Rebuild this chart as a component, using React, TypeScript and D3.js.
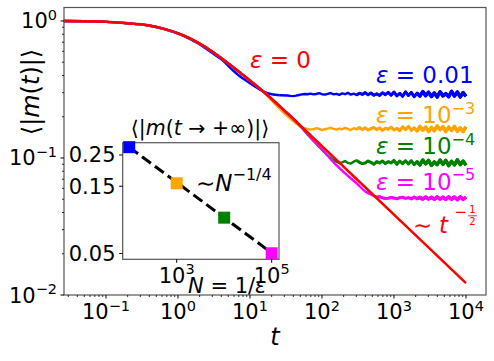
import React from 'react';
import * as d3 from 'd3';

// ---------- data ----------
// eps = 0 curve (red)
const redT = [0.026, 0.05, 0.1, 0.2, 0.375, 0.64, 1.09, 1.85, 3.16, 5.4, 9.2, 15.6, 30, 100, 1000, 10000];
const redM = [0.999, 0.996, 0.985, 0.962, 0.93, 0.875, 0.8, 0.7, 0.587, 0.475, 0.38, 0.303, 0.222, 0.122, 0.0386, 0.0122];

// eps = 0.01 (blue)
const blueT = [0.026, 0.05, 0.1, 0.2, 0.375, 0.64, 1.09, 1.85, 3.16, 4.3, 5.4, 7, 9.2, 12, 15.3, 20, 26];
const blueM = [0.999, 0.996, 0.985, 0.962, 0.93, 0.874, 0.795, 0.69, 0.572, 0.51, 0.45, 0.4, 0.362, 0.33, 0.305, 0.292, 0.287];
const blueStartExp = 1.52;
const bluePlateau = [
  0.286, 0.284, 0.283, 0.285, 0.288, 0.291, 0.293, 0.292, 0.295, 0.291, 0.293, 0.297, 0.292, 0.29, 0.294,
  0.298, 0.291, 0.294, 0.289, 0.296, 0.292, 0.299, 0.29, 0.295, 0.288, 0.297, 0.291, 0.3, 0.289, 0.298, 0.287, 0.294, 0.286, 0.299, 0.29,
  0.301, 0.287, 0.303, 0.284, 0.296, 0.282, 0.304, 0.286, 0.301, 0.28, 0.297, 0.283, 0.305, 0.285, 0.302, 0.281, 0.298, 0.279, 0.304, 0.284, 0.295, 0.28, 0.306, 0.283, 0.303, 0.279, 0.3, 0.282,
];

// eps = 1e-3 (orange)
const orangeT = [0.026, 0.05, 0.1, 0.2, 0.375, 0.64, 1.09, 1.85, 3.16, 5.4, 9.2, 15.6, 20, 25, 30, 38, 48, 56];
const orangeM = [0.999, 0.996, 0.985, 0.962, 0.93, 0.875, 0.8, 0.7, 0.587, 0.475, 0.38, 0.302, 0.263, 0.233, 0.212, 0.19, 0.172, 0.165];
const orangeStartExp = 1.8;
const orangePlateau = [
  0.163, 0.161, 0.162, 0.165, 0.163, 0.16, 0.162, 0.164, 0.166, 0.163, 0.161, 0.164, 0.162, 0.166,
  0.163, 0.16, 0.165, 0.162, 0.167, 0.161, 0.166, 0.16, 0.164, 0.167, 0.161, 0.166, 0.159, 0.165, 0.162, 0.168, 0.16, 0.165,
  0.158, 0.169, 0.161, 0.17, 0.159, 0.166, 0.157, 0.17, 0.16, 0.168, 0.156, 0.167, 0.158, 0.171, 0.161, 0.169, 0.156, 0.168, 0.159, 0.17, 0.157, 0.166, 0.156, 0.169,
];

// eps = 1e-4 (green)
const greenT = [0.026, 0.05, 0.1, 0.2, 0.375, 0.64, 1.09, 1.85, 3.16, 5.4, 9.2, 15.6, 30, 45, 62, 80, 100, 120, 140];
const greenM = [0.999, 0.996, 0.985, 0.962, 0.93, 0.875, 0.8, 0.7, 0.587, 0.475, 0.38, 0.303, 0.222, 0.182, 0.15, 0.13, 0.115, 0.104, 0.098];
const greenStartExp = 2.16;
const greenPlateau = [
  0.097, 0.094, 0.092, 0.093, 0.095, 0.092, 0.091, 0.094, 0.096, 0.093, 0.091, 0.092,
  0.095, 0.093, 0.09, 0.094, 0.092, 0.095, 0.091, 0.094, 0.092, 0.096, 0.09, 0.095, 0.091, 0.0955, 0.0905,
  0.0955, 0.0895, 0.094, 0.089, 0.0965, 0.0905, 0.096, 0.0885, 0.0935, 0.0895, 0.0965, 0.09, 0.096, 0.088, 0.0945, 0.089, 0.097, 0.0895, 0.095, 0.0885,
];

// eps = 1e-5 (magenta)
const magentaT = [0.026, 0.05, 0.1, 0.2, 0.375, 0.64, 1.09, 1.85, 3.16, 5.4, 9.2, 15.6, 30, 45, 62, 80, 100, 120, 142, 200, 300, 400, 500, 560];
const magentaM = [0.999, 0.996, 0.985, 0.962, 0.93, 0.875, 0.8, 0.7, 0.587, 0.475, 0.38, 0.303, 0.222, 0.182, 0.151, 0.131, 0.116, 0.104, 0.094, 0.079, 0.0655, 0.057, 0.0535, 0.052];
const magentaStartExp = 2.8;
const magentaPlateau = [
  0.0522, 0.0512, 0.0506, 0.0509, 0.0515, 0.051, 0.0504, 0.0513, 0.0517, 0.0507, 0.0514, 0.0503, 0.0518, 0.0505, 0.0516, 0.0501,
  0.0519, 0.0502, 0.0517, 0.05, 0.052, 0.0501, 0.0518, 0.0498, 0.0521, 0.05, 0.0519, 0.0497, 0.0521, 0.0499, 0.0518,
];

// inset: saturation value vs N = 1/eps
const insetN = [1e2, 1e3, 1e4, 1e5];
const insetM = [0.284, 0.1575, 0.0898, 0.0502];
const insetColors = ['#0000ff', '#ffa500', '#008000', '#ff00ff'];
const fitN = [1e2, 1e5];
const fitM = [0.284, 0.0505];

// ticks
const xTickExps = [-1, 0, 1, 2, 3, 4];
const yTickExps = [-2, -1, 0];
const insetYTicks = [0.05, 0.15, 0.25];
const insetYTickLabels = ['0.05', '0.15', '0.25'];
const insetXTickExps = [3, 5];

const FONT = '"DejaVu Sans", sans-serif';
const MINUS = '\u2212';

type P = [number, number];

function transient(tt: number[], mm: number[]): P[] {
  return tt.map((t, i) => [t, mm[i]] as P);
}
function plateauPts(last: P, startExp: number, plateau: number[]): P[] {
  const n = plateau.length;
  const pts: P[] = [last];
  plateau.forEach((v, i) => {
    const e = startExp + (i * (4 - startExp)) / (n - 1);
    pts.push([Math.pow(10, e), v]);
  });
  return pts;
}

export default function App() {
  const W = 494;
  const H = 361;
  const L = 64, R = 486, T = 7.5, B = 295;

  const xs = d3.scaleLog().domain([Math.pow(10, -1.583), Math.pow(10, 4.278)]).range([L, R]);
  const ys = d3.scaleLog().domain([0.01, 1.254]).range([B, T]);

  const smooth = d3.line<P>().x((d) => xs(d[0])).y((d) => ys(d[1])).curve(d3.curveMonotoneX);
  const straight = d3.line<P>().x((d) => xs(d[0])).y((d) => ys(d[1]));

  const red: P[] = transient(redT, redM);
  const defs = [
    { t: blueT, m: blueM, s: blueStartExp, p: bluePlateau, color: '#0000ff' },
    { t: orangeT, m: orangeM, s: orangeStartExp, p: orangePlateau, color: '#ffa500' },
    { t: greenT, m: greenM, s: greenStartExp, p: greenPlateau, color: '#008000' },
    { t: magentaT, m: magentaM, s: magentaStartExp, p: magentaPlateau, color: '#ff00ff' },
  ];
  const series = defs.map((d) => {
    const tr = transient(d.t, d.m);
    return { tr, pl: plateauPts(tr[tr.length - 1], d.s, d.p), color: d.color };
  });

  // minor ticks
  const xMinor: number[] = [];
  for (let e = -2; e <= 4; e++) for (let k = 2; k <= 9; k++) {
    const v = k * Math.pow(10, e);
    if (v >= xs.domain()[0] && v <= xs.domain()[1]) xMinor.push(v);
  }
  const yMinor: number[] = [];
  for (let e = -2; e <= 0; e++) for (let k = 2; k <= 9; k++) {
    const v = k * Math.pow(10, e);
    if (v >= ys.domain()[0] && v <= ys.domain()[1]) yMinor.push(v);
  }

  // inset
  const iL = 122.7, iR = 279, iT = 142.7, iB = 259.3;
  const xi = d3.scaleLog().domain([Math.pow(10, 1.863), Math.pow(10, 5.154)]).range([iL, iR]);
  const yi = d3.scaleLog().domain([0.0455, 0.3055]).range([iB, iT]);
  const fitLine = d3.line<number>().x((_, i) => xi(fitN[i])).y((_, i) => yi(fitM[i]));

  const spine = '#555';

  return (
    <svg width={W} height={H} style={{ display: 'block', position: 'absolute', left: 0, top: 0 }} fontFamily={FONT}>
      <rect x={0} y={0} width={W} height={H} fill="#fff" />
      {/* curves */}
      {series.map((s, i) => (
        <g key={i} fill="none" stroke={s.color} strokeLinejoin="round">
          <path d={smooth(s.tr) || ''} strokeWidth={2.4} />
          <path d={straight(s.pl) || ''} strokeWidth={2.4} />
          <path d={straight(s.pl.filter((p) => p[0] >= 300)) || ''} strokeWidth={3} />
          <path d={straight(s.pl.filter((p) => p[0] >= 2000)) || ''} strokeWidth={3.6} />
        </g>
      ))}
      <path d={smooth(red) || ''} fill="none" stroke="#ff0000" strokeWidth={2.5} />

      {/* frame */}
      <rect x={L} y={T} width={R - L} height={B - T} fill="none" stroke={spine} strokeWidth={1.2} />

      {/* x ticks */}
      {xTickExps.map((e) => {
        const x = xs(Math.pow(10, e));
        return (
          <g key={'xt' + e}>
            <line x1={x} x2={x} y1={B} y2={B + 3.5} stroke="#000" strokeWidth={1} />
            <text x={x} y={319} textAnchor="middle" fontSize={21}>
              10<tspan dy={-8.5} fontSize={14.5}>{e < 0 ? MINUS + Math.abs(e) : e}</tspan>
            </text>
          </g>
        );
      })}
      {xMinor.map((v, i) => (
        <line key={'xm' + i} x1={xs(v)} x2={xs(v)} y1={B} y2={B + 2} stroke="#000" strokeWidth={0.8} />
      ))}
      {/* y ticks */}
      {yTickExps.map((e) => {
        const y = ys(Math.pow(10, e));
        return (
          <g key={'yt' + e}>
            <line x1={L - 3.5} x2={L} y1={y} y2={y} stroke="#000" strokeWidth={1} />
            <text x={57} y={y + 7.5} textAnchor="end" fontSize={21}>
              10<tspan dy={-8.5} fontSize={14.5}>{e < 0 ? MINUS + Math.abs(e) : e}</tspan>
            </text>
          </g>
        );
      })}
      {yMinor.map((v, i) => (
        <line key={'ym' + i} x1={L - 2} x2={L} y1={ys(v)} y2={ys(v)} stroke="#000" strokeWidth={0.8} />
      ))}

      {/* axis labels */}
      <text x={275} y={345} textAnchor="middle" fontSize={24} fontStyle="italic">t</text>
      <text transform="translate(39,92) rotate(-90)" textAnchor="middle" fontSize={24}>
        {'\u27E8|'}<tspan fontStyle="italic">m</tspan>(<tspan fontStyle="italic">t</tspan>){'|\u27E9'}
      </text>

      {/* annotations */}
      <text x={250} y={68} fontSize={23} fill="#ff0000">
        <tspan fontStyle="italic">ε</tspan> = 0
      </text>
      <text x={376} y={83} fontSize={23} fill="#0000ff">
        <tspan fontStyle="italic">ε</tspan> = 0.01
      </text>
      <text x={376} y={123} fontSize={23} fill="#ffa500">
        <tspan fontStyle="italic">ε</tspan> = 10<tspan dy={-9.5} fontSize={16}>{MINUS}3</tspan>
      </text>
      <text x={376} y={154} fontSize={23} fill="#008000">
        <tspan fontStyle="italic">ε</tspan> = 10<tspan dy={-9.5} fontSize={16}>{MINUS}4</tspan>
      </text>
      <text x={376} y={189.5} fontSize={23} fill="#ff00ff">
        <tspan fontStyle="italic">ε</tspan> = 10<tspan dy={-9.5} fontSize={16}>{MINUS}5</tspan>
      </text>
      {/* ~ t^{-1/2} */}
      <g fill="#ff0000">
        <text x={413} y={233} fontSize={23}>∼</text>
        <text x={439} y={233} fontSize={23} fontStyle="italic">t</text>
        <text x={454.5} y={216.5} fontSize={15}>{MINUS}</text>
        <text x={472.5} y={213} fontSize={10} textAnchor="middle">1</text>
        <line x1={468} x2={477} y1={215.8} y2={215.8} stroke="#ff0000" strokeWidth={0.8} />
        <text x={472.5} y={225} fontSize={10} textAnchor="middle">2</text>
      </g>

      {/* inset */}
      <rect x={iL} y={iT} width={iR - iL} height={iB - iT} fill="#fff" stroke={spine} strokeWidth={1.2} />
      <path d={fitLine(fitN) || ''} fill="none" stroke="#000" strokeWidth={3} strokeDasharray="11,5" />
      {insetN.map((n, i) => (
        <rect key={'mk' + i} x={xi(n) - 6} y={yi(insetM[i]) - 6} width={12} height={12} fill={insetColors[i]} />
      ))}
      {insetYTicks.map((v, i) => (
        <g key={'iy' + i}>
          <line x1={iL - 3.5} x2={iL} y1={yi(v)} y2={yi(v)} stroke="#000" strokeWidth={1} />
          <text x={115.5} y={yi(v) + 7.5} textAnchor="end" fontSize={21}>{insetYTickLabels[i]}</text>
        </g>
      ))}
      {insetXTickExps.map((e) => {
        const x = xi(Math.pow(10, e));
        return (
          <g key={'ix' + e}>
            <line x1={x} x2={x} y1={iB} y2={iB + 3.5} stroke="#000" strokeWidth={1} />
            <text x={x} y={282.7} textAnchor="middle" fontSize={21}>
              10<tspan dy={-8.5} fontSize={14.5}>{e}</tspan>
            </text>
          </g>
        );
      })}
      <text x={200} y={135} textAnchor="middle" fontSize={20.5}>
        {'\u27E8|'}<tspan fontStyle="italic">m</tspan>(<tspan fontStyle="italic">t</tspan> → +∞){'|\u27E9'}
      </text>
      <text x={188} y={293.3} fontSize={21}>
        <tspan fontStyle="italic">N</tspan> = 1/<tspan fontStyle="italic">ε</tspan>
      </text>
      <text x={196} y={190.5} fontSize={23}>
        ∼<tspan fontStyle="italic">N</tspan><tspan dy={-10.5} fontSize={16}>{MINUS}1/4</tspan>
      </text>
    </svg>
  );
}
